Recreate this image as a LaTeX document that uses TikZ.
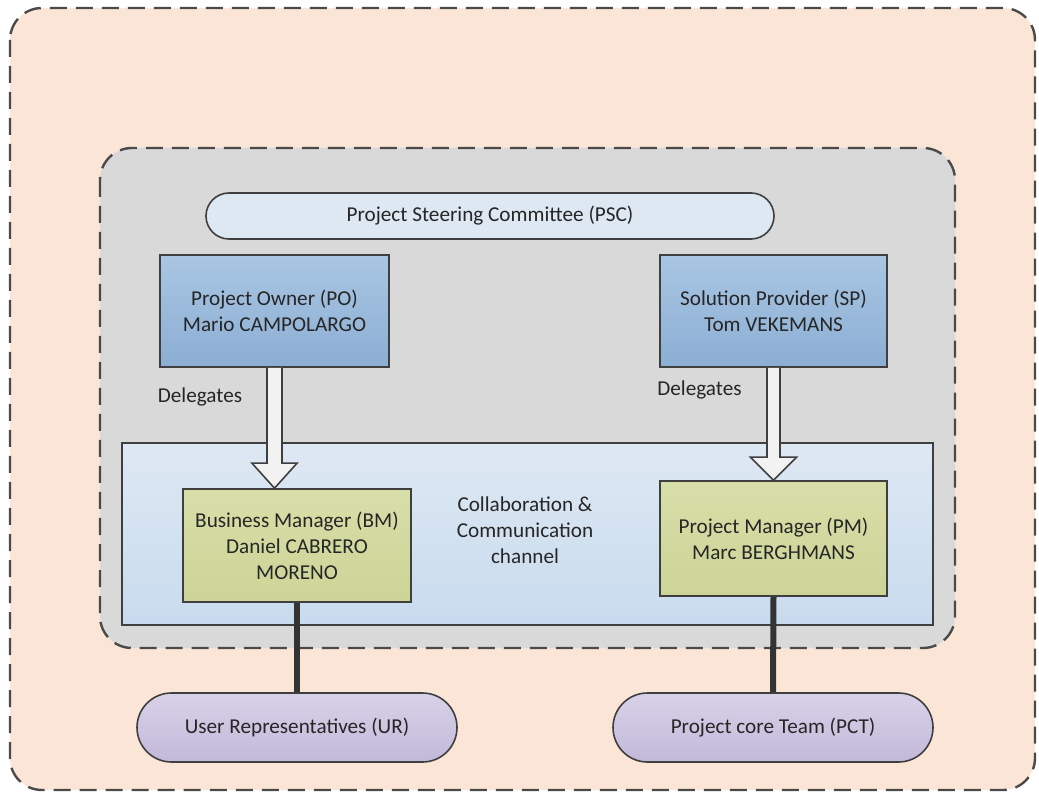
\documentclass[tikz,border=0pt]{standalone}
\usepackage{fontspec}
\setmainfont{Carlito}
\usetikzlibrary{calc, shapes.misc}

\definecolor{peach}{HTML}{FBE5D6}
\definecolor{steergray}{HTML}{D9D9D9}
\definecolor{dashgray}{HTML}{4A4A4A}
\definecolor{linegray}{HTML}{3F3F3F}
\definecolor{textgray}{HTML}{262626}
\definecolor{pscblue}{HTML}{DDE8F3}
\definecolor{ownertop}{HTML}{A9C6E3}
\definecolor{ownerbot}{HTML}{8CAED4}
\definecolor{chantop}{HTML}{DEE8F3}
\definecolor{chanbot}{HTML}{C8DBEE}
\definecolor{mgrtop}{HTML}{D8DEA8}
\definecolor{mgrbot}{HTML}{CCD497}
\definecolor{teamtop}{HTML}{D8D2E8}
\definecolor{teambot}{HTML}{C2B9D9}

\tikzset{
  every node/.style={font=\fontsize{10.6}{13}\selectfont, text=textgray, align=center},
  panel/.style={draw=dashgray, line width=1.2pt, dash pattern=on 8.5pt off 4.5pt, rounded corners=16pt},
  channelbox/.style={draw=linegray, line width=0.8pt, top color=chantop, bottom color=chanbot},
  pill/.style={rounded rectangle, draw=linegray, line width=0.8pt, inner sep=0pt},
  ownerbox/.style={rectangle, draw=linegray, line width=0.8pt, inner sep=0pt, top color=ownertop, bottom color=ownerbot},
  mgrbox/.style={rectangle, draw=linegray, line width=0.8pt, inner sep=0pt, top color=mgrtop, bottom color=mgrbot},
  delegarrow/.style={draw=linegray, line width=0.8pt, fill=white!95!black, line join=miter},
  teamlink/.style={draw=black!80, line width=3pt}
}

\begin{document}
\begin{tikzpicture}[x=0.5pt, y=-0.5pt]
\useasboundingbox (0,0) rectangle (1039,796);

% containers
\draw[panel, fill=peach] (10,8) rectangle (1035,790);
\draw[panel, fill=steergray] (100,148) rectangle (955,648);
\draw[channelbox] (122,443) rectangle (933,625);

% steering committee
\node[pill, fill=pscblue, minimum width=284pt, minimum height=23pt] (psc) at (490,216) {Project Steering Committee (PSC)};
\node[ownerbox, minimum width=114.5pt, minimum height=56pt] (po) at (274.5,311) {Project Owner (PO)\\Mario CAMPOLARGO};
\node[ownerbox, minimum width=113.5pt, minimum height=56pt] (sp) at (773.5,311) {Solution Provider (SP)\\Tom VEKEMANS};

% managers
\node[mgrbox, minimum width=114pt, minimum height=56.5pt] (bm) at (297,545.5) {Business Manager (BM)\\Daniel CABRERO\\MORENO};
\node[mgrbox, minimum width=113.5pt, minimum height=57.5pt] (pm) at (773.5,538.5) {Project Manager (PM)\\Marc BERGHMANS};
\node (chanlbl) at (525,530) {Collaboration \&\\Communication\\channel};

% delegation
\node (dlgpo) at (200,397) {Delegates};
\node (dlgsp) at (699.5,390) {Delegates};
\coordinate (potip) at (po.south |- bm.north);
\coordinate (sptip) at (sp.south |- pm.north);
\draw[delegarrow] ($(po.south)+(-7.5,0)$) -- ($(potip)+(-7.5,-25)$) -- ($(potip)+(-22.5,-25)$) -- (potip)
  -- ($(potip)+(22.5,-25)$) -- ($(potip)+(7.5,-25)$) -- ($(po.south)+(7.5,0)$);
\draw[delegarrow] ($(sp.south)+(-6.5,0)$) -- ($(sptip)+(-6.5,-23)$) -- ($(sptip)+(-23,-23)$) -- (sptip)
  -- ($(sptip)+(23,-23)$) -- ($(sptip)+(6.5,-23)$) -- ($(sp.south)+(6.5,0)$);

% teams
\node[pill, top color=teamtop, bottom color=teambot, minimum width=160pt, minimum height=34.5pt] (ur) at (297,727.5) {User Representatives (UR)};
\node[pill, top color=teamtop, bottom color=teambot, minimum width=160pt, minimum height=34.5pt] (pct) at (773,727.5) {Project core Team (PCT)};
\draw[teamlink] (bm.south) -- (ur.north);
\draw[teamlink] (pm.south) -- (pct.north);
\end{tikzpicture}
\end{document}
